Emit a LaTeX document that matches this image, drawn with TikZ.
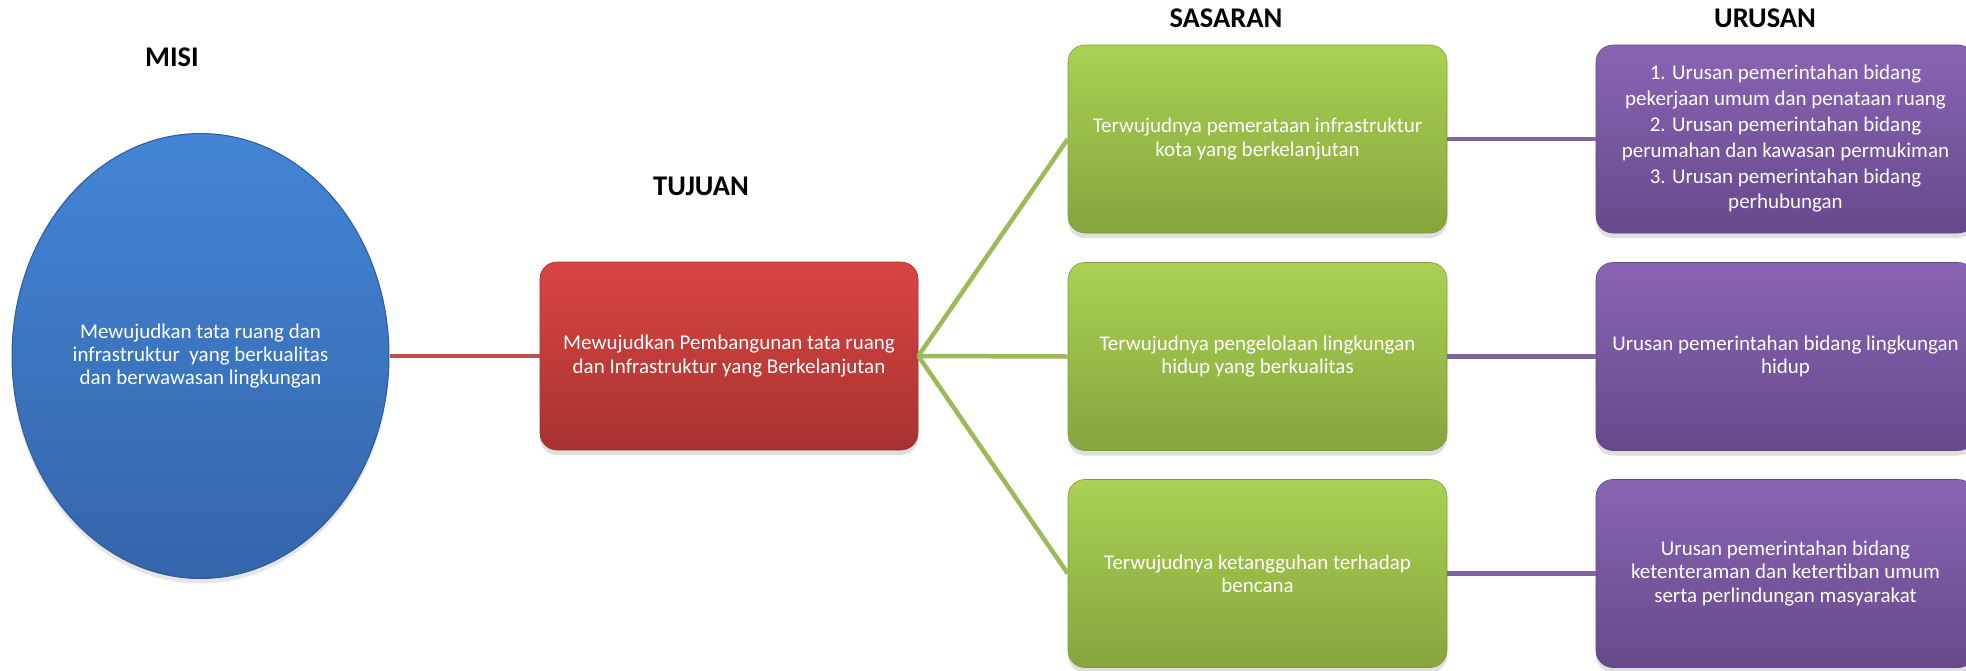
\documentclass[tikz,border=0pt]{standalone}
\usepackage{fontspec}
\setmainfont{Carlito}
\usetikzlibrary{shadows,shapes.geometric}
\definecolor{blueT}{HTML}{4385D5}
\definecolor{blueB}{HTML}{3465AB}
\definecolor{blueE}{HTML}{2E5A98}
\definecolor{redT}{HTML}{DA4542}
\definecolor{redB}{HTML}{A73230}
\definecolor{redE}{HTML}{A2302E}
\definecolor{greenT}{HTML}{A9D152}
\definecolor{greenB}{HTML}{86A53E}
\definecolor{greenE}{HTML}{7F9C3C}
\definecolor{purpT}{HTML}{8A64B4}
\definecolor{purpB}{HTML}{66498B}
\definecolor{purpE}{HTML}{614585}
\definecolor{lnRed}{HTML}{C0504D}
\definecolor{lnGreen}{HTML}{9BBB59}
\definecolor{lnPurp}{HTML}{8064A2}
\begin{document}
\begin{tikzpicture}[x=1pt,y=-1pt,
  body/.style={font=\fontsize{21}{23.3}\selectfont, text=white, align=center},
  hdr/.style={font=\bfseries\fontsize{28.5}{30}\selectfont, text=black, inner sep=0pt},
  boxbase/.style={body, rounded corners=17pt, minimum width=379pt, minimum height=188pt, inner sep=0pt,
    line width=0.6pt, drop shadow={opacity=0.25, shadow xshift=0pt, shadow yshift=-5pt}},
  ovalbox/.style={body, ellipse, minimum width=377pt, minimum height=445pt, inner sep=0pt,
    top color=blueT, bottom color=blueB, draw=blueE, line width=1pt,
    drop shadow={opacity=0.2, shadow xshift=0pt, shadow yshift=-5pt}},
  redbox/.style={boxbase, top color=redT, bottom color=redB, draw=redE},
  greenbox/.style={boxbase, top color=greenT, bottom color=greenB, draw=greenE},
  purpbox/.style={boxbase, top color=purpT, bottom color=purpB, draw=purpE},
  redline/.style={draw=lnRed, line width=4.5pt},
  greenline/.style={draw=lnGreen, line width=4.5pt},
  purpline/.style={draw=lnPurp, line width=4.5pt}
]
\useasboundingbox (0,0) rectangle (1966,670);
\clip (0,0) rectangle (1966,670);

% headers
\node[hdr] (hmisi) at (172,57) {MISI};
\node[hdr] (htuj) at (701,186) {TUJUAN};
\node[hdr] (hsas) at (1226,18) {SASARAN};
\node[hdr] (hur) at (1765,18) {URUSAN};

% main nodes
\node[ovalbox] (misi) at (200.5,356) {Mewujudkan tata ruang dan\\infrastruktur\ \ yang berkualitas\\dan berwawasan lingkungan};
\node[redbox, minimum width=378pt] (tuj) at (729,356) {Mewujudkan Pembangunan tata ruang\\dan Infrastruktur yang Berkelanjutan};

\node[greenbox] (s1) at (1257.5,139) {Terwujudnya pemerataan infrastruktur\\kota yang berkelanjutan};
\node[greenbox] (s2) at (1257.5,356.5) {Terwujudnya pengelolaan lingkungan\\hidup yang berkualitas};
\node[greenbox] (s3) at (1257.5,573.5) {Terwujudnya ketangguhan terhadap\\bencana};

\node[purpbox, font=\fontsize{21}{25.8}\selectfont] (u1) at (1785.5,139) {1. Urusan pemerintahan bidang\\pekerjaan umum dan penataan ruang\\2. Urusan pemerintahan bidang\\perumahan dan kawasan permukiman\\3. Urusan pemerintahan bidang\\perhubungan};
\node[purpbox] (u2) at (1785.5,356.5) {Urusan pemerintahan bidang lingkungan\\hidup};
\node[purpbox] (u3) at (1785.5,573.5) {Urusan pemerintahan bidang\\ketenteraman dan ketertiban umum\\serta perlindungan masyarakat};

% connectors
\draw[redline] (misi.east) -- (tuj.west);
\draw[greenline] (tuj.east) -- (s1.west);
\draw[greenline] (tuj.east) -- (s2.west);
\draw[greenline] (tuj.east) -- (s3.west);
\draw[purpline] (s1.east) -- (u1.west);
\draw[purpline] (s2.east) -- (u2.west);
\draw[purpline] (s3.east) -- (u3.west);
\end{tikzpicture}
\end{document}
